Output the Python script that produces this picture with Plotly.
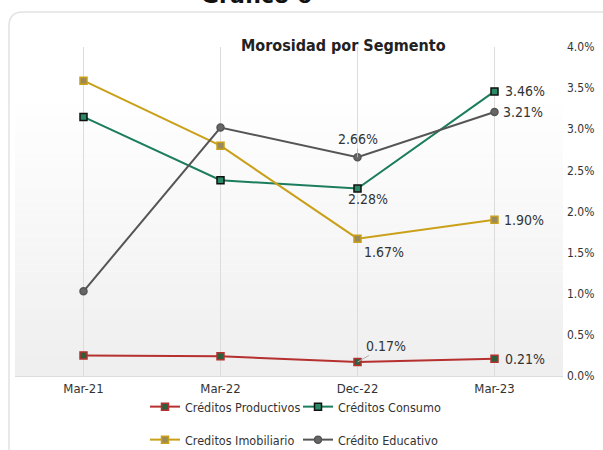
import plotly.graph_objects as go

categories = ["Mar-21", "Mar-22", "Dec-22", "Mar-23"]
productivos = [0.25, 0.24, 0.17, 0.21]
consumo = [3.15, 2.38, 2.28, 3.46]
imobiliario = [3.59, 2.80, 1.67, 1.90]
educativo = [1.03, 3.02, 2.66, 3.21]
y_ticks = [0, 0.5, 1.0, 1.5, 2.0, 2.5, 3.0, 3.5, 4.0]

FONT = "DejaVu Sans Condensed, DejaVu Sans"
W, H = 603, 450
L, R, T, B = 15, 40, 47, 74
PW, PH = W - L - R, H - T - B

def px(x):
    return (x - L) / PW

def py(y):
    return (H - B - y) / PH

fig = go.Figure()

series = [
    ("Créditos Productivos", productivos, "#b5302f", "square", "#2e5e3a", "#b5302f", 7, "legend"),
    ("Créditos Consumo", consumo, "#1b7d5c", "square", "#2a8a66", "#111111", 7, "legend"),
    ("Creditos Imobiliario", imobiliario, "#c9a018", "square", "#9a8a5a", "#c9a018", 7, "legend2"),
    ("Crédito Educativo", educativo, "#555555", "circle", "#666666", "#555555", 7, "legend2"),
]
for name, vals, col, sym, fill, edge, size, lg in series:
    fig.add_trace(go.Scatter(
        x=categories, y=vals, name=name, mode="lines+markers",
        line=dict(color=col, width=2),
        marker=dict(symbol=sym, size=size, color=fill, line=dict(color=edge, width=1.5)),
        legend=lg,
    ))

def lab(x, y, ax, ay, arrow=False):
    return dict(x=x, y=y, xref="x", yref="y", text=f"{y:.2f}%", showarrow=True,
                ax=ax, ay=ay, arrowhead=0, arrowwidth=1 if arrow else 0.1,
                arrowcolor="#b0b0b0" if arrow else "rgba(0,0,0,0)",
                font=dict(family=FONT, size=14, color="#333333"), standoff=0)

anns = [
    lab(categories[3], consumo[3], 30, 0),
    lab(categories[3], educativo[3], 28, 0),
    lab(categories[2], educativo[2], 0, -18, True),
    lab(categories[2], consumo[2], 10, 11),
    lab(categories[2], imobiliario[2], 26, 13),
    lab(categories[3], imobiliario[3], 29, 0),
    lab(categories[2], productivos[2], 28, -16, True),
    lab(categories[3], productivos[3], 30, 0),
]
anns.append(dict(x=px(256), y=py(10), xref="paper", yref="paper", text="<b>Gráfico 6</b>",
                 showarrow=False, yanchor="bottom", xanchor="center",
                 font=dict(family="DejaVu Sans", size=22, color="#111111")))
anns.append(dict(x=px(343), y=py(45), xref="paper", yref="paper", text="<b>Morosidad por Segmento</b>",
                 showarrow=False, yanchor="middle", xanchor="center",
                 font=dict(family=FONT, size=16, color="#222222")))

shapes = []
r = 14
path = (f"M {px(9)} {py(480)} L {px(9)} {py(12 + r)} Q {px(9)} {py(12)} {px(9 + r)} {py(12)} "
        f"L {px(640)} {py(12)}")
shapes.append(dict(type="path", path=path, xref="paper", yref="paper",
                   line=dict(color="#e2e2e2", width=1.5), layer="below"))
N = 40
top, bot = 0.85, 0.0
for i in range(N):
    a = bot + (top - bot) * i / N
    b = bot + (top - bot) * (i + 1) / N
    t = i / (N - 1)
    c = int(239 + (255 - 239) * t)
    shapes.append(dict(type="rect", xref="paper", yref="paper", x0=0, x1=1, y0=a, y1=b,
                       fillcolor=f"rgb({c},{c},{c})", line=dict(width=0), layer="below"))

legend_common = dict(orientation="h", x=px(145), xanchor="left", yanchor="middle",
                     yref="paper", font=dict(family=FONT, size=12.5, color="#333333"),
                     bgcolor="rgba(0,0,0,0)", itemwidth=30, tracegroupgap=0,
                     entrywidth=108, entrywidthmode="pixels")

fig.update_layout(
    width=W, height=H,
    margin=dict(l=L, r=R, t=T, b=B, autoexpand=False),
    paper_bgcolor="white", plot_bgcolor="rgba(0,0,0,0)",
    font=dict(family=FONT, size=12, color="#333333"),
    annotations=anns, shapes=shapes,
    xaxis=dict(type="category", range=[-0.5, 3.5], showgrid=True, gridcolor="#dcdcdc", gridwidth=1,
               showline=True, linecolor="#dcdcdc", linewidth=1, ticks="",
               tickfont=dict(family=FONT, size=13, color="#333333"), zeroline=False),
    yaxis=dict(side="right", range=[0, 4.0], tickvals=y_ticks, ticktext=[f"{v:.1f}%" for v in y_ticks],
               showgrid=False, zeroline=False, showline=False, ticks="",
               ticklabelstandoff=3,
               tickfont=dict(family=FONT, size=12, color="#333333")),
    legend=dict(y=py(407), **legend_common),
    legend2=dict(y=py(440), **legend_common),
    showlegend=True,
)

fig.write_html("out.html", config={"displayModeBar": False},
               post_script="document.body.style.margin='0';")
